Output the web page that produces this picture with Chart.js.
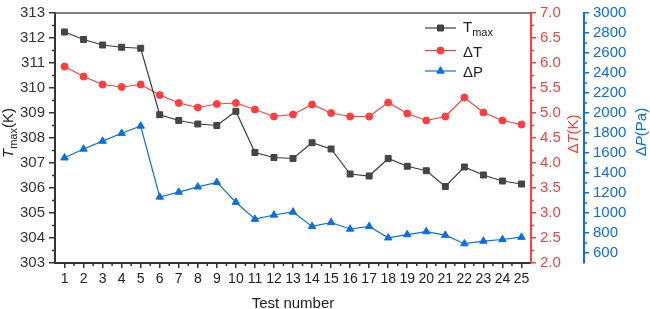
<!DOCTYPE html>
<html><head><meta charset="utf-8">
<script src="https://cdn.jsdelivr.net/npm/chart.js@4/dist/chart.umd.min.js"></script>
<style>html,body{margin:0;padding:0;background:#fff;}#wrap{width:650px;height:309px;position:relative;}</style>
</head><body><div id="wrap"><canvas id="c" width="650" height="309"></canvas></div>
<script>
const testNumbers = ['1','2','3','4','5','6','7','8','9','10','11','12','13','14','15','16','17','18','19','20','21','22','23','24','25'];
const tmax = [312.24, 311.94, 311.72, 311.63, 311.59, 308.93, 308.70, 308.56, 308.50, 309.07, 307.42, 307.22, 307.18, 307.81, 307.56, 306.56, 306.48, 307.18, 306.87, 306.69, 306.06, 306.84, 306.52, 306.28, 306.16];
const deltaT = [5.93, 5.73, 5.57, 5.52, 5.57, 5.36, 5.20, 5.11, 5.18, 5.20, 5.07, 4.93, 4.97, 5.17, 5.00, 4.93, 4.93, 5.21, 4.99, 4.85, 4.93, 5.31, 5.01, 4.85, 4.77];
const deltaP = [1552, 1640, 1719, 1797, 1870, 1160, 1209, 1261, 1307, 1108, 938, 980, 1010, 866, 905, 840, 866, 752, 784, 814, 778, 693, 719, 735, 758];
const pressureTicks = [600, 800, 1000, 1200, 1400, 1600, 1800, 2000, 2200, 2400, 2600, 2800, 3000];

const FONT = "'Liberation Sans', Arial, sans-serif";
const AXIS = '#333333';
const C_T = '#3c3c3c', C_DT = '#ff3d3d', C_DP = '#0a6fe2';

const legendParts = [
  [{t:'T'},{t:'max',sub:true}],
  [{t:'\u0394T'}],
  [{t:'\u0394P'}]
];
const titleLeft = [{t:'T',italic:true},{t:'max',sub:true},{t:'(K)'}];
const titleRed = [{t:'\u0394'},{t:'T',italic:true},{t:'(K)'}];
const titleBlue = [{t:'\u0394'},{t:'P',italic:true},{t:'(Pa)'}];

function partFont(p, size){
  const s = p.sub ? Math.round(size*0.73) : size;
  return (p.italic ? 'italic ' : '') + s + 'px ' + FONT;
}
function richWidth(ctx, parts, size){
  let w = 0;
  for (const p of parts){ ctx.font = partFont(p,size); w += ctx.measureText(p.t).width; }
  return w;
}
function drawRich(ctx, parts, x, y, size, color){
  ctx.fillStyle = color; ctx.textAlign = 'left'; ctx.textBaseline = 'alphabetic';
  for (const p of parts){
    ctx.font = partFont(p,size);
    ctx.fillText(p.t, x, y + (p.sub ? size*0.27 : 0));
    x += ctx.measureText(p.t).width;
  }
}
function drawRotTitle(ctx, parts, cx, cy, size, color){
  ctx.save(); ctx.translate(cx, cy); ctx.rotate(-Math.PI/2);
  const w = richWidth(ctx, parts, size);
  drawRich(ctx, parts, -w/2, 0, size, color);
  ctx.restore();
}
function seg(ctx,x1,y1,x2,y2){ctx.beginPath();ctx.moveTo(x1,y1);ctx.lineTo(x2,y2);ctx.stroke();}

const decor = {
  id:'decor',
  afterDraw(chart){
    const ctx = chart.ctx, s = chart.scales, ca = chart.chartArea;
    ctx.save();
    ctx.strokeStyle = '#555'; ctx.lineWidth = 1.5;
    seg(ctx, ca.left, ca.top, ca.right, ca.top);
    ctx.lineWidth = 1.5;
    ctx.strokeStyle = AXIS;
    const L = s.y;
    for (let v = L.min + 0.5; v < L.max; v += 1){ const p = L.getPixelForValue(v); seg(ctx, L.right-3, p, L.right, p); }
    const X = s.x;
    for (let i = 0; i < testNumbers.length - 1; i++){
      const p = (X.getPixelForTick(i) + X.getPixelForTick(i+1))/2; seg(ctx, p, X.top, p, X.top+3);
    }
    ctx.strokeStyle = C_DT;
    const R = s.y1;
    for (let v = R.min + 0.25; v < R.max; v += 0.5){ const p = R.getPixelForValue(v); seg(ctx, R.left, p, R.left+3, p); }
    ctx.strokeStyle = C_DP;
    const B = s.y2;
    for (let v = 700; v < B.max; v += 200){ const p = B.getPixelForValue(v); seg(ctx, B.left, p, B.left+3, p); }
    drawRotTitle(ctx, titleLeft, L.left + 13, 133, 15, '#222');
    drawRotTitle(ctx, titleRed, R.left + 47, 134, 15, C_DT);
    drawRotTitle(ctx, titleBlue, B.left + 62, 132, 15, C_DP);
    ctx.font = '15px ' + FONT; ctx.fillStyle = '#222'; ctx.textAlign = 'center'; ctx.textBaseline = 'alphabetic';
    ctx.fillText('Test number', (ca.left+ca.right)/2, X.bottom - 1.5);
    const rows = [15, 37.5, 58];
    const bases = [19, 44, 64];
    chart.data.datasets.forEach((ds, i) => {
      const y = ca.top + rows[i];
      const x0 = ca.right - 106, x1 = ca.right - 75;
      ctx.strokeStyle = ds.borderColor; ctx.lineWidth = 1.2;
      seg(ctx, x0, y, x1, y);
      ctx.fillStyle = ds.pointBackgroundColor; ctx.strokeStyle = ds.borderColor; ctx.lineWidth = 1;
      Chart.helpers.drawPoint(ctx, {pointStyle: ds.pointStyle, radius: ds.pointRadius, rotation: 0, borderWidth: 1}, (x0+x1)/2, y);
      drawRich(ctx, legendParts[i], ca.right - 68, ca.top + bases[i], 15, '#222');
    });
    ctx.restore();
  }
};

const yTickOpts = (color) => ({ font:{size:15, family:FONT}, color: color, padding: 4, autoSkip:false });

new Chart(document.getElementById('c'), {
  type: 'line',
  data: {
    labels: testNumbers,
    datasets: [
      { label:'Tmax', data: tmax, yAxisID:'y', borderColor:C_T, backgroundColor:C_T, pointBackgroundColor:'#454545', pointBorderColor:'#454545', pointStyle:'rect', pointRadius:4.2, pointBorderWidth:1, borderWidth:1.2, tension:0 },
      { label:'\u0394T', data: deltaT, yAxisID:'y1', borderColor:C_DT, backgroundColor:C_DT, pointBackgroundColor:C_DT, pointBorderColor:C_DT, pointStyle:'circle', pointRadius:3.5, pointBorderWidth:1, borderWidth:1.2, tension:0 },
      { label:'\u0394P', data: deltaP, yAxisID:'y2', borderColor:C_DP, backgroundColor:C_DP, pointBackgroundColor:C_DP, pointBorderColor:C_DP, pointStyle:'triangle', pointRadius:4.3, pointBorderWidth:1, borderWidth:1.2, tension:0 }
    ]
  },
  options: {
    responsive:false, animation:false, devicePixelRatio:1,
    layout:{ padding:{ top:8, left:0, right:0, bottom:0 } },
    plugins:{ legend:{display:false}, tooltip:{enabled:false} },
    scales:{
      x:{ type:'category', offset:true, position:'bottom',
        grid:{ display:true, drawOnChartArea:false, drawTicks:true, tickLength:5, color:AXIS, lineWidth:1.5, offset:false },
        border:{ display:true, color:AXIS, width:2 },
        ticks:{ font:{size:14, family:FONT}, color:'#222', padding:3, maxRotation:0, autoSkip:false },
        afterFit(s){ s.height = 46; } },
      y:{ position:'left', min:303, max:313,
        grid:{ drawOnChartArea:false, drawTicks:true, tickLength:6, color:AXIS, lineWidth:1.5 },
        border:{ color:AXIS, width:2 },
        ticks:{ ...yTickOpts('#333'), stepSize:1 },
        afterFit(s){ s.width = 55; } },
      y1:{ position:'right', weight:0, min:2, max:7,
        grid:{ drawOnChartArea:false, drawTicks:true, tickLength:5, color:C_DT, lineWidth:1.5 },
        border:{ color:C_DT, width:2 },
        ticks:{ ...yTickOpts(C_DT), stepSize:0.5, callback:(v)=>Number(v).toFixed(1) },
        afterFit(s){ s.width = 53; } },
      y2:{ position:'right', weight:1, min:500, max:3000,
        grid:{ drawOnChartArea:false, drawTicks:true, tickLength:5, color:C_DP, lineWidth:1.5 },
        border:{ color:C_DP, width:2 },
        ticks:{ ...yTickOpts(C_DP), callback:(v)=>String(v) },
        afterBuildTicks(s){ s.ticks = pressureTicks.map(v => ({value:v})); },
        afterFit(s){ s.width = 66; } }
    }
  },
  plugins:[decor]
});
</script></body></html>
